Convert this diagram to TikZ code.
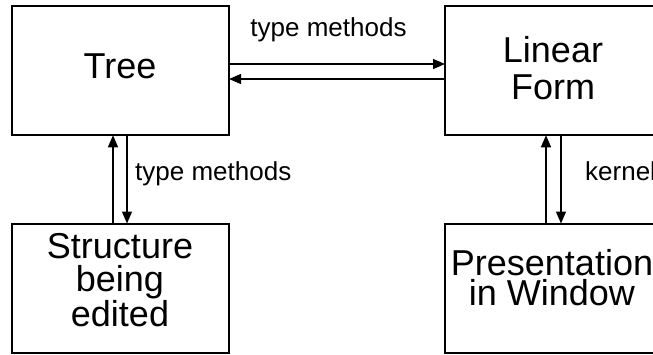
\documentclass[tikz,border=0pt]{standalone}
\usepackage{fontspec}
\setmainfont{Liberation Sans}
\usetikzlibrary{arrows.meta}
\begin{document}
\begin{tikzpicture}[x=1pt,y=-1pt,
  box/.style={draw, line width=2pt, minimum width=217pt, minimum height=129pt, inner sep=0pt, outer sep=0pt},
  boxtext/.style={align=center, inner sep=0pt, anchor=base},
  lbl/.style={font=\fontsize{26}{30}\selectfont, inner sep=0pt, anchor=base},
  conn/.style={line width=1.3pt, -{Triangle[length=12pt,width=10pt]}}]
\useasboundingbox (0,0) rectangle (653,354);
% boxes
\node[box] (tree) at (120.5,70.75) {};
\node[box] (linear) at (553.5,70.75) {};
\node[box] (struct) at (120.5,288) {};
\node[box] (pres) at (553.5,288) {};
% box texts (base anchor = baseline of last line)
\node[boxtext, font=\fontsize{36}{36.6}\selectfont] (treetext) at (120,78.3) {Tree};
\node[boxtext, font=\fontsize{36}{36.6}\selectfont] (lineartext) at (553,99.3) {Linear\\Form};
\node[boxtext, font=\fontsize{36}{32.5}\selectfont] (structtext) at (120,326) {Structure\\being\\edited};
\node[boxtext, font=\fontsize{36}{30}\selectfont] (prestext) at (552,305) {Presentation\\in Window};
% connectors
\draw[conn] ([yshift=6.75pt]tree.east) -- ([yshift=6.75pt]linear.west);
\draw[conn] ([yshift=-8.25pt]linear.west) -- ([yshift=-8.25pt]tree.east);
\draw[conn] ([xshift=-7.5pt]struct.north) -- ([xshift=-7.5pt]tree.south);
\draw[conn] ([xshift=6.5pt]tree.south) -- ([xshift=6.5pt]struct.north);
\draw[conn] ([xshift=-7.5pt]pres.north) -- ([xshift=-7.5pt]linear.south);
\draw[conn] ([xshift=7.5pt]linear.south) -- ([xshift=7.5pt]pres.north);
% labels
\node[lbl] (lbltop) at (328.5,36.7) {type methods};
\node[lbl, anchor=base west] (lblleft) at (135,180) {type methods};
\node[lbl, anchor=base west] (lblkernel) at (585,180) {kernel};
\end{tikzpicture}
\end{document}
